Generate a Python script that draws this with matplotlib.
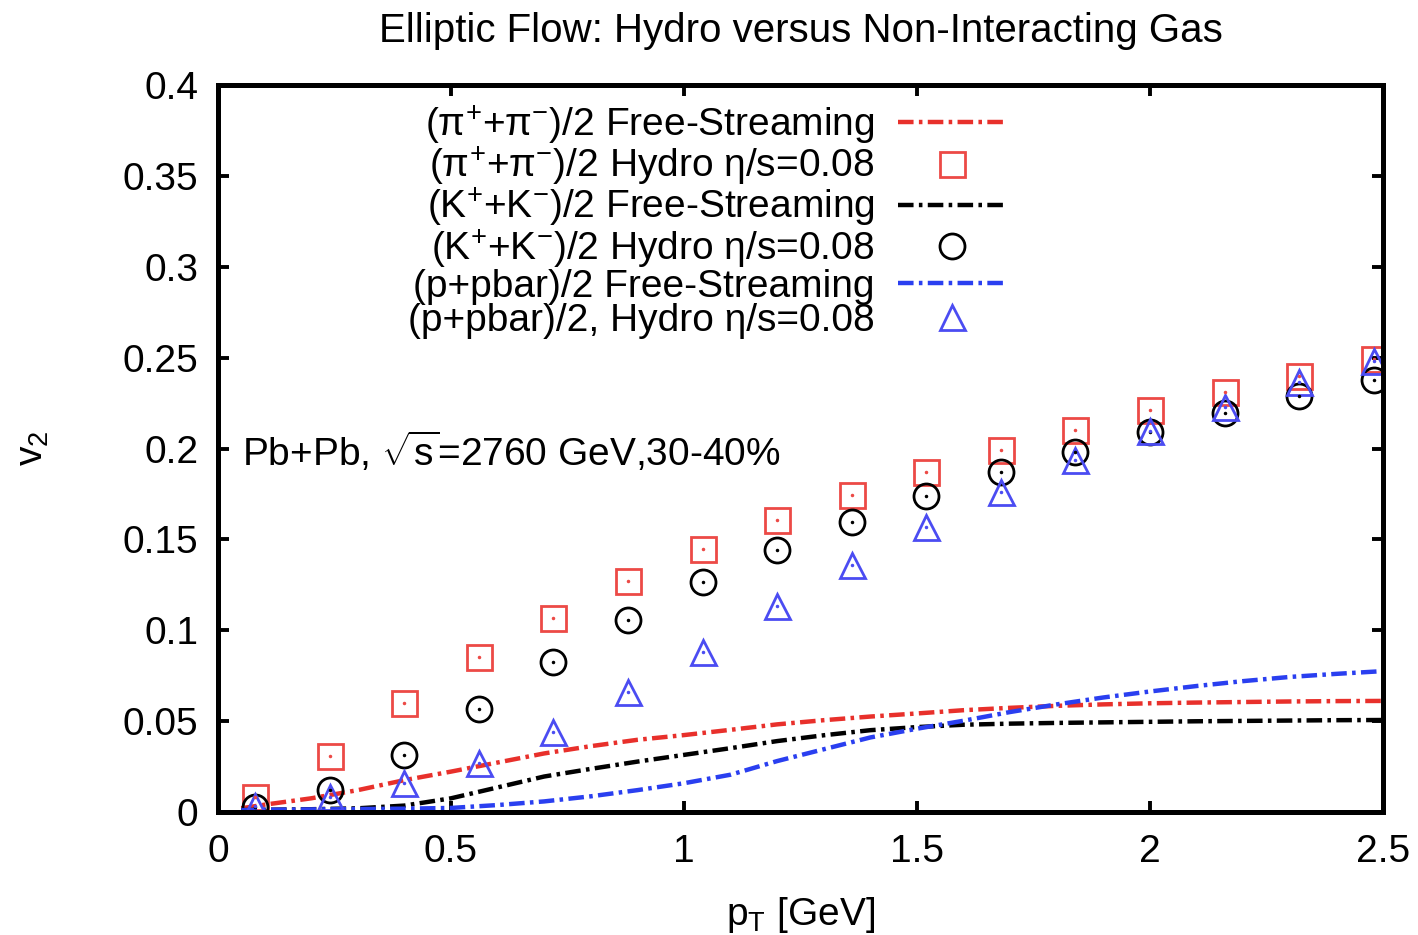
import numpy as np
import matplotlib
matplotlib.use("Agg")
import matplotlib.pyplot as plt
from matplotlib.ticker import FuncFormatter

plt.rcParams['font.family'] = ['Liberation Sans', 'DejaVu Sans']
plt.rcParams['mathtext.fontset'] = 'custom'
plt.rcParams['mathtext.rm'] = 'Liberation Sans'
plt.rcParams['mathtext.it'] = 'Liberation Sans:italic'
plt.rcParams['mathtext.sf'] = 'Liberation Sans'

# hydro points (eta/s = 0.08)
pt_pts = [0.08, 0.24, 0.40, 0.56, 0.72, 0.88, 1.04, 1.20, 1.36, 1.52, 1.68, 1.84, 2.00, 2.16, 2.32, 2.48]
pion_hydro = [0.0083, 0.0308, 0.0600, 0.0853, 0.1070, 0.1270, 0.1447, 0.1607, 0.1744, 0.1870,
              0.1990, 0.2100, 0.2210, 0.2310, 0.2400, 0.2490]
kaon_hydro = [0.0030, 0.0121, 0.0314, 0.0567, 0.0825, 0.1056, 0.1266, 0.1441, 0.1596, 0.1739,
              0.1870, 0.1980, 0.2090, 0.2195, 0.2290, 0.2377]
proton_hydro = [0.0035, 0.0085, 0.0160, 0.0270, 0.0440, 0.0660, 0.0880, 0.1135, 0.1360, 0.1570,
                0.1760, 0.1935, 0.2095, 0.2230, 0.2365, 0.2480]

# free-streaming curves
pt_fs = [0.05, 0.1, 0.2, 0.3, 0.4, 0.5, 0.6, 0.7, 0.8, 0.9, 1.0, 1.1, 1.2, 1.3, 1.4, 1.5,
         1.6, 1.7, 1.8, 1.9, 2.0, 2.1, 2.2, 2.3, 2.4, 2.5]
pion_fs = [0.0020, 0.0040, 0.0075, 0.0120, 0.0175, 0.0222, 0.0272, 0.0322, 0.0362, 0.0397,
           0.0423, 0.0452, 0.0482, 0.0505, 0.0525, 0.0542, 0.0560, 0.0573, 0.0584, 0.0592,
           0.0598, 0.0602, 0.0605, 0.0608, 0.0610, 0.0611]
kaon_fs = [0.0010, 0.0012, 0.0015, 0.0020, 0.0035, 0.0075, 0.0135, 0.0195, 0.0237, 0.0277,
           0.0314, 0.0351, 0.0390, 0.0422, 0.0450, 0.0467, 0.0480, 0.0486, 0.0490, 0.0493,
           0.0496, 0.0499, 0.0501, 0.0503, 0.0505, 0.0506]
proton_fs = [0.0010, 0.0012, 0.0014, 0.0016, 0.0018, 0.0022, 0.0038, 0.0058, 0.0086, 0.0120,
             0.0158, 0.0205, 0.0280, 0.0345, 0.0410, 0.0458, 0.0502, 0.0550, 0.0592, 0.0630,
             0.0663, 0.0693, 0.0720, 0.0743, 0.0760, 0.0775]

labels = ["(π$^{+}$+π$^{-}$)/2 Free-Streaming",
          "(π$^{+}$+π$^{-}$)/2 Hydro η/s=0.08",
          "(K$^{+}$+K$^{-}$)/2 Free-Streaming",
          "(K$^{+}$+K$^{-}$)/2 Hydro η/s=0.08",
          "(p+pbar)/2 Free-Streaming",
          "(p+pbar)/2, Hydro η/s=0.08"]

red = '#e8302b'
blue = '#2a3ff0'
red_m = '#ec4a46'
blue_m = '#4b4cf2'
dashdot = (0, (3.5, 1.2, 0.8, 1.2))

fig = plt.figure(figsize=(14.18, 9.35), dpi=100)
ax = fig.add_axes([0.1537, 0.1316, 0.8216, 0.7774])

ms = 18
mew = 2.0
ax.plot(pt_fs, pion_fs, color=red, lw=3.2, ls=dashdot, label=labels[0])
ax.plot(pt_pts, pion_hydro, ls='none', marker='s', ms=ms, mfc='none', mec=red_m, mew=mew, label=labels[1])
ax.plot(pt_fs, kaon_fs, color='black', lw=3.2, ls=dashdot, label=labels[2])
ax.plot(pt_pts, kaon_hydro, ls='none', marker='o', ms=ms, mfc='none', mec='black', mew=mew, label=labels[3])
ax.plot(pt_fs, proton_fs, color=blue, lw=3.2, ls=dashdot, label=labels[4])
ax.plot(pt_pts, proton_hydro, ls='none', marker='^', ms=ms, mfc='none', mec=blue_m, mew=mew, label=labels[5])

# gnuplot-style centre dots
ax.plot(pt_pts, pion_hydro, ls='none', marker='.', ms=3, color=red_m)
ax.plot(pt_pts, kaon_hydro, ls='none', marker='.', ms=3, color='black')
ax.plot(pt_pts, proton_hydro, ls='none', marker='.', ms=3, color=blue_m)

ax.set_xlim(0, 2.5)
ax.set_ylim(0, 0.4)
ax.set_xticks([0, 0.5, 1, 1.5, 2, 2.5])
ax.set_yticks(np.arange(0, 0.401, 0.05))
ax.xaxis.set_major_formatter(FuncFormatter(lambda v, p: '%g' % round(v, 3)))
ax.yaxis.set_major_formatter(FuncFormatter(lambda v, p: '%g' % round(v, 3)))
ax.tick_params(direction='in', length=8, width=2.8, labelsize=28, top=True, right=True)
ax.tick_params(axis='x', pad=16)
ax.tick_params(axis='y', pad=14)
for s in ax.spines.values():
    s.set_linewidth(3.6)

ax.set_title("Elliptic Flow: Hydro versus Non-Interacting Gas", fontsize=29, pad=31)
ax.set_xlabel("p$_{\\mathrm{T}}$ [GeV]", fontsize=28, labelpad=18)
ax.set_ylabel("v$_{2}$", fontsize=28, labelpad=52)

ax.text(0.052, 0.198, "Pb+Pb, $\\sqrt{\\mathrm{s}}$=2760 GeV,30-40%", fontsize=28, va='center')

leg = ax.legend(loc='upper right', bbox_to_anchor=(0.677, 0.975), frameon=False,
                markerfirst=False, fontsize=28, handlelength=2.8, handletextpad=0.6,
                labelspacing=-0.05, borderpad=0, borderaxespad=0)

fig.savefig("out.png", dpi=100)
